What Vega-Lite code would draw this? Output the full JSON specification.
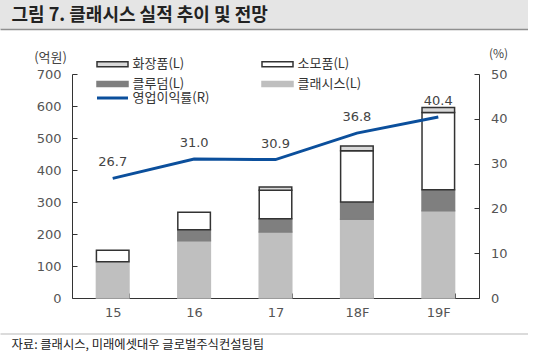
{
  "$schema": "https://vega.github.io/schema/vega-lite/v6.json",
  "padding": 0,
  "background": "white",
  "bounds": "flush",
  "spacing": 45,
  "config": {
    "view": {"stroke": null},
    "font": "Noto Sans CJK KR"
  },
  "datasets": {
    "bars": [
      {"year": "15", "category": "클래시스", "value": 113},
      {"year": "15", "category": "소모품", "value": 36},
      {"year": "16", "category": "클래시스", "value": 179},
      {"year": "16", "category": "클루덤", "value": 34},
      {"year": "16", "category": "소모품", "value": 55},
      {"year": "17", "category": "클래시스", "value": 206},
      {"year": "17", "category": "클루덤", "value": 42},
      {"year": "17", "category": "소모품", "value": 89},
      {"year": "17", "category": "화장품", "value": 10},
      {"year": "18F", "category": "클래시스", "value": 246},
      {"year": "18F", "category": "클루덤", "value": 54},
      {"year": "18F", "category": "소모품", "value": 160},
      {"year": "18F", "category": "화장품", "value": 15},
      {"year": "19F", "category": "클래시스", "value": 273},
      {"year": "19F", "category": "클루덤", "value": 65},
      {"year": "19F", "category": "소모품", "value": 242},
      {"year": "19F", "category": "화장품", "value": 15}
    ],
    "rates": [
      {"year": "15", "series": "영업이익률(R)", "rate": 26.7},
      {"year": "16", "series": "영업이익률(R)", "rate": 31.0},
      {"year": "17", "series": "영업이익률(R)", "rate": 30.9},
      {"year": "18F", "series": "영업이익률(R)", "rate": 36.8},
      {"year": "19F", "series": "영업이익률(R)", "rate": 40.4}
    ]
  },
  "vconcat": [
    {
      "width": 528,
      "height": 29,
      "view": {"fill": "#e5e5e5", "stroke": null},
      "data": {"values": [{"t": "header"}]},
      "mark": {"type": "text"},
      "encoding": {
        "x": {
          "field": "t", "type": "nominal",
          "axis": {
            "labels": false, "ticks": false, "domainColor": "#8f8f8f", "domainWidth": 1.5,
            "title": "그림 7. 클래시스 실적 추이 및 전망",
            "titleX": 11, "titleY": -14, "titleAlign": "left", "titleBaseline": "middle",
            "titleFont": "Noto Sans CJK KR", "titleFontSize": 18, "titleFontWeight": "bold", "titleColor": "#222222"
          }
        },
        "text": {"value": ""}
      }
    },
    {
      "width": 479,
      "height": 224,
      "layer": [
        {
          "data": {"name": "bars"},
          "transform": [
            {"calculate": "indexof(['클래시스','클루덤','소모품','화장품'], datum.category)", "as": "stackOrder"}
          ],
          "mark": {"type": "bar", "strokeWidth": 1.5},
          "encoding": {
            "x": {
              "field": "year", "type": "nominal", "sort": null,
              "scale": {"range": [72, 479], "paddingInner": 0.6, "paddingOuter": 0.3},
              "axis": {
                "title": null, "labelAngle": 0, "tickBand": "extent", "tickSize": -5,
                "tickColor": "#333333", "domainColor": "#333333",
                "labelFont": "DejaVu Sans", "labelFontSize": 13, "labelColor": "#555555", "labelPadding": 13
              }
            },
            "y": {
              "field": "value", "type": "quantitative", "stack": "zero",
              "scale": {"domain": [0, 700]},
              "axis": {
                "offset": -72,
                "values": [0, 100, 200, 300, 400, 500, 600, 700],
                "grid": false, "tickSize": -5, "tickColor": "#333333", "domainColor": "#333333",
                "labelFont": "DejaVu Sans", "labelFontSize": 13, "labelColor": "#555555", "labelPadding": 16,
                "title": "(억원)", "titleAngle": 0, "titleX": -22, "titleY": -17,
                "titleAlign": "center", "titleBaseline": "middle",
                "titleFont": "Noto Sans CJK KR", "titleFontSize": 13, "titleFontWeight": "normal", "titleColor": "#444444"
              }
            },
            "fill": {
              "field": "category", "type": "nominal",
              "scale": {"domain": ["화장품", "소모품", "클루덤", "클래시스"], "range": ["#d9d9d9", "#ffffff", "#7f7f7f", "#bfbfbf"]},
              "legend": {
                "orient": "none", "direction": "horizontal", "legendX": 106, "legendY": 57.5, "columns": 2, "columnPadding": 74, "rowPadding": 6,
                "title": null, "padding": 0,
                "symbolType": "M-3.1,-0.5H3.1V0.5H-3.1Z", "symbolSize": 100, "symbolStrokeWidth": 1.5,
                "labelFont": "Noto Sans CJK KR", "labelFontSize": 13, "labelColor": "#333333", "labelOffset": 13.5,
                "labelExpr": "datum.label + '(L)'"
              }
            },
            "stroke": {
              "field": "category", "type": "nominal",
              "scale": {"domain": ["화장품", "소모품", "클루덤", "클래시스"], "range": ["#333333", "#333333", "#7f7f7f", "#bfbfbf"]},
              "legend": {
                "orient": "none", "direction": "horizontal", "legendX": 106, "legendY": 57.5, "columns": 2, "columnPadding": 74, "rowPadding": 6,
                "title": null, "padding": 0,
                "symbolType": "M-3.1,-0.5H3.1V0.5H-3.1Z", "symbolSize": 100, "symbolStrokeWidth": 1.5,
                "labelFont": "Noto Sans CJK KR", "labelFontSize": 13, "labelColor": "#333333", "labelOffset": 13.5,
                "labelExpr": "datum.label + '(L)'"
              }
            },
            "order": {"field": "stackOrder", "type": "quantitative"}
          }
        },
        {
          "data": {"name": "rates"},
          "encoding": {
            "x": {"field": "year", "type": "nominal", "sort": null},
            "y": {
              "field": "rate", "type": "quantitative",
              "scale": {"domain": [0, 50]},
              "axis": {
                "orient": "right", "values": [0, 10, 20, 30, 40, 50],
                "grid": false, "tickSize": -5, "tickColor": "#333333", "domainColor": "#333333",
                "labelFont": "DejaVu Sans", "labelFontSize": 13, "labelColor": "#555555", "labelPadding": 16.5,
                "title": "(%)", "titleAngle": 0, "titleX": 19, "titleY": -21,
                "titleAlign": "center", "titleBaseline": "middle",
                "titleFont": "Noto Sans CJK KR", "titleFontSize": 12, "titleFontWeight": "normal", "titleColor": "#444444"
              }
            }
          },
          "layer": [
            {
              "mark": {"type": "line", "strokeWidth": 3},
              "encoding": {
                "color": {
                  "field": "series", "type": "nominal",
                  "scale": {"range": ["#0b4f9c"]},
                  "legend": {
                    "orient": "none", "legendX": 106, "legendY": 91.5, "title": null, "padding": 0,
                    "symbolType": "M-3.1,0H3.1", "symbolSize": 100, "symbolStrokeWidth": 3,
                    "labelFont": "Noto Sans CJK KR", "labelFontSize": 13, "labelColor": "#333333", "labelOffset": 13.5
                  }
                }
              }
            },
            {
              "mark": {"type": "text", "dy": -16, "font": "DejaVu Sans", "fontSize": 13, "color": "#444444"},
              "encoding": {
                "text": {"field": "rate", "type": "quantitative", "format": ".1f"}
              }
            }
          ]
        }
      ],
      "resolve": {"scale": {"y": "independent"}}
    },
    {
      "width": 528,
      "height": 10,
      "data": {"values": [{"t": "footer"}]},
      "mark": {"type": "text"},
      "encoding": {
        "x": {
          "field": "t", "type": "nominal",
          "axis": {
            "orient": "top", "offset": 9.5, "labels": false, "ticks": false,
            "domainColor": "#cfcfcf", "domainWidth": 1.5,
            "title": "자료: 클래시스, 미래에셋대우 글로벌주식컨설팅팀",
            "titleX": 11, "titleY": 10.5, "titleAlign": "left", "titleBaseline": "middle",
            "titleFont": "Noto Sans CJK KR", "titleFontSize": 12.3, "titleFontWeight": "normal", "titleColor": "#222222"
          }
        },
        "text": {"value": ""}
      }
    }
  ]
}
